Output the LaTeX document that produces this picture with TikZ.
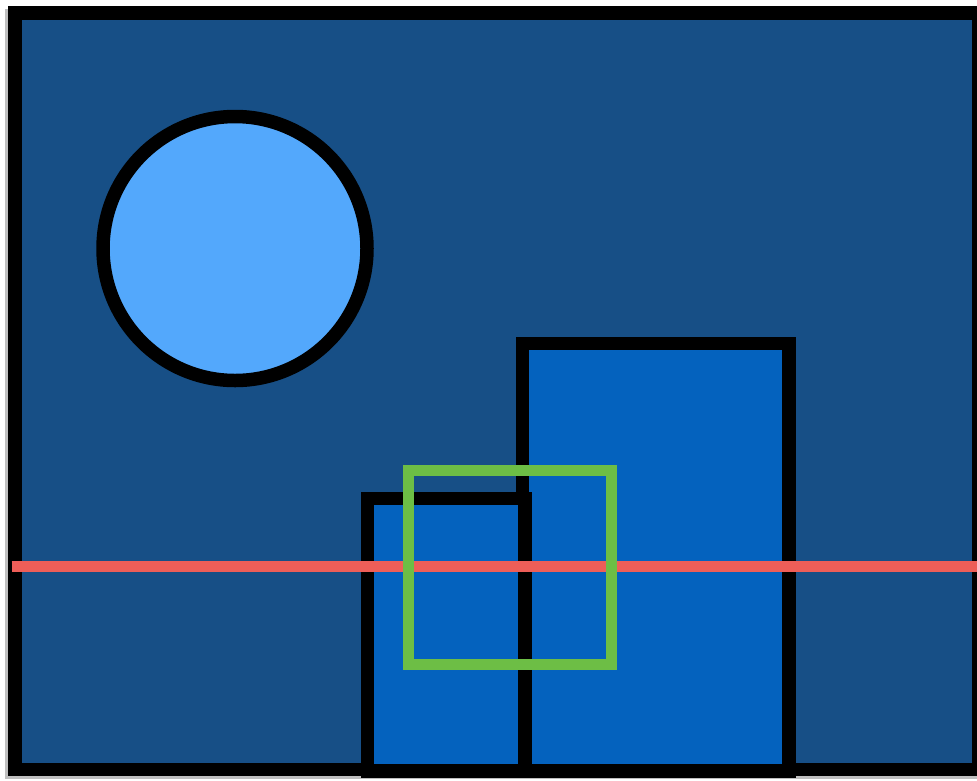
\documentclass[tikz,border=0pt]{standalone}
\usetikzlibrary{shadows}
\definecolor{bgblue}{HTML}{174F86}
\definecolor{boxblue}{HTML}{0462BE}
\definecolor{moonblue}{HTML}{53A8FC}
\definecolor{redline}{HTML}{EE5E58}
\definecolor{greenbox}{HTML}{6DBE45}
\tikzset{
  blackframe/.style={draw=black, line width=13.5pt, line join=miter},
  softshadow/.style={drop shadow={shadow xshift=0pt, shadow yshift=-2pt, opacity=0.35, fill=black}},
}
\begin{document}
\begin{tikzpicture}[x=1pt, y=-1pt]
\useasboundingbox (0,0) rectangle (977,780);
\fill[white] (0,0) rectangle (977,780);
% outer frame with faint shadow
\fill[black!25] (5,9) rectangle (980,779);
\path[blackframe, fill=bgblue] (15,13) rectangle (979,769.5);
% moon
\node[circle, minimum size=264pt, inner sep=0pt, fill=moonblue, draw=black, line width=13.5pt, softshadow] (moon) at (235,248.5) {};
% tall building
\path[blackframe, fill=boxblue, softshadow] (522.5,343.5) rectangle (789,771) coordinate (tallbr);
% small building
\path[blackframe, fill=boxblue, softshadow] (367.7,498.3) rectangle (525,771);
% red horizon line
\coordinate (hl) at (11.7,566.2);
\coordinate (hr) at (977,566.2);
\draw[redline, line width=11pt] (hl) -- (hr);
% green box
\draw[greenbox, line width=10.7pt] (408.7,470.3) rectangle (611.7,664.7);
\end{tikzpicture}
\end{document}
